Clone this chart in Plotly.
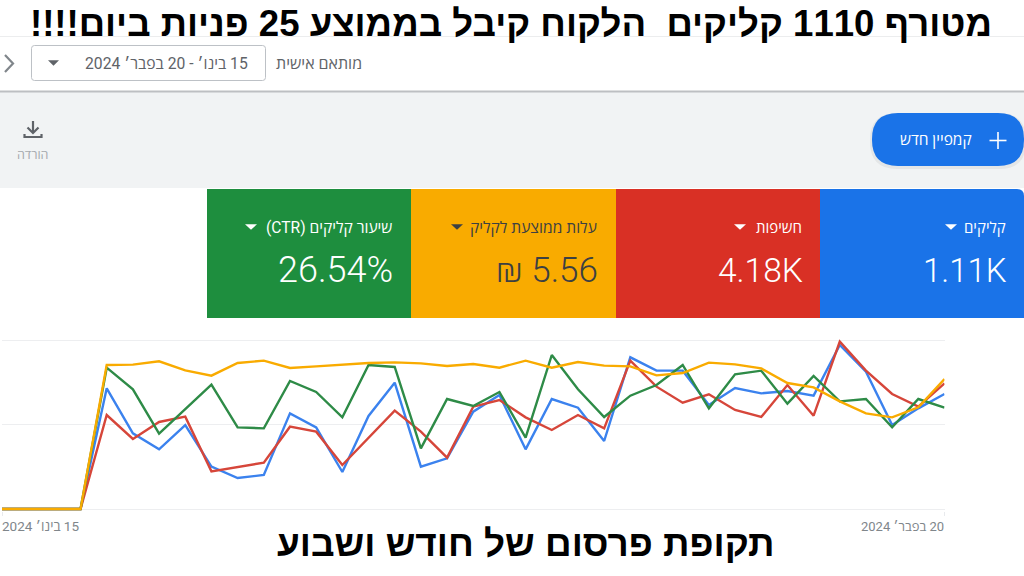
import plotly.graph_objects as go

W, H = 1024, 576

# Chart data: relative metric level per day (axis runs 0 to 507, no printed scale)
days = list(range(37))
zeros = [0, 0, 0, 0]
clicks = zeros + [362,227,179,252,127,93,102,287,245,111,279,379,127,152,292,342,179,330,304,204,455,415,415,312,363,347,354,340,492,412,252,302,345]
impressions = zeros + [282,210,261,277,113,125,139,247,232,132,215,295,232,154,307,327,275,237,282,242,445,367,319,344,297,276,372,280,502,415,345,307,377]
ctr = zeros + [424,359,226,300,373,245,242,384,351,275,432,426,182,330,309,351,214,462,359,276,340,372,432,302,404,415,316,399,323,330,245,330,304]
cpc = zeros + [432,433,443,416,400,438,445,423,428,433,438,440,437,429,435,424,445,424,441,430,428,401,408,439,434,422,378,365,323,287,275,305,390]

RLE, PDF = "\u202b", "\u202c"
def rtl(s):
    return RLE + s + PDF

title_text = "מטורף 1110 קליקים  הלקוח קיבל בממוצע 25 פניות ביום!!!!"
bottom_text = "תקופת פרסום של חודש ושבוע"
range_text = "15 בינו׳ - 20 בפבר׳ 2024"
custom_text = "מותאם אישית"
download_text = "הורדה"
button_text = "קמפיין חדש"
start_label = "15 בינו׳ 2024"
end_label = "20 בפבר׳ 2024"

BLUE, RED, YELLOW, GREEN = "#1A73E8", "#D93025", "#F9AB00", "#1E8E3E"
cards = [
    (820, 1024, BLUE, "#ffffff", "קליקים", "1.11K", 1006, 945, 15, 33),
    (616, 820, RED, "#ffffff", "חשיפות", "4.18K", 802, 734, 15, 33.5),
    (411, 616, YELLOW, "#3C4043", "עלות ממוצעת לקליק", "₪ 5.56", 597, 451, 15.6, 35),
    (207, 411, GREEN, "#ffffff", "שיעור קליקים (CTR)", "26.54%", 392, 245, 15.6, 36),
]

def X(x): return x / W
def Y(y): return 1 - y / H

shapes, annos = [], []

def rect(x0, y0, x1, y1, fill, line=None, lw=1):
    shapes.append(dict(type="rect", xref="paper", yref="paper", x0=X(x0), x1=X(x1), y0=Y(y0), y1=Y(y1),
                       fillcolor=fill, line=dict(color=line or fill, width=lw if line else 0), layer="below"))

def path(points, fill=None, line=None, lw=0, close=True, curve=None):
    d = curve or ("M " + " L ".join(f"{X(a):.5f},{Y(b):.5f}" for a, b in points) + (" Z" if close else ""))
    shapes.append(dict(type="path", xref="paper", yref="paper", path=d,
                       fillcolor=fill or "rgba(0,0,0,0)",
                       line=dict(color=line or "rgba(0,0,0,0)", width=lw), layer="below"))

def rrect(x0, y0, x1, y1, rtl_r, rtr, rbr, rbl):
    """Rounded rectangle path in paper coordinates."""
    def p(a, b): return f"{X(a):.5f},{Y(b):.5f}"
    d = f"M {p(x0+rtl_r,y0)} L {p(x1-rtr,y0)} Q {p(x1,y0)} {p(x1,y0+rtr)} L {p(x1,y1-rbr)} Q {p(x1,y1)} {p(x1-rbr,y1)} L {p(x0+rbl,y1)} Q {p(x0,y1)} {p(x0,y1-rbl)} L {p(x0,y0+rtl_r)} Q {p(x0,y0)} {p(x0+rtl_r,y0)} Z"
    return d

def text(x, y, s, size, color, anchor="center", family="Roboto, 'Open Sans', sans-serif", bold=False, weight=None):
    f = dict(size=size, color=color, family=family)
    if weight:
        f["weight"] = weight
    annos.append(dict(xref="paper", yref="paper", x=X(x), y=Y(y), text=f"<b>{s}</b>" if bold else s,
                      showarrow=False, xanchor=anchor, yanchor="middle",
                      font=f, borderpad=0, borderwidth=0))

def tri(x0, x1, y, h, color):
    path([(x0, y - h / 2), (x1, y - h / 2), ((x0 + x1) / 2, y + h / 2)], fill=color)

# Page bands
rect(0, 92, W, 188, "#F1F3F4")
rect(0, 90.5, W, 92.5, "#BDBFC2")
rect(0, 36, W, 37, "#ECEDEE")

# Date selector
path(None, fill="#ffffff", line="#BDC1C6", lw=1, curve=rrect(31.5, 45.5, 265.5, 80.5, 3, 3, 3, 3))
tri(48, 59, 63, 5.5, "#5F6368")
text(248, 63, rtl(range_text), 15.7, "#5F6368", "right")
text(362, 63, rtl(custom_text), 16, "#5F6368", "right")
path([(5, 55), (13, 63.5), (5, 72)], line="#80868B", lw=2.2, close=False)

# Download
path([(33, 121), (33, 132)], line="#5F6368", lw=2.2, close=False)
path([(27.5, 127.5), (33, 133), (38.5, 127.5)], line="#5F6368", lw=2.2, close=False)
path([(24.5, 134), (24.5, 137), (41.5, 137), (41.5, 134)], line="#5F6368", lw=2.2, close=False)
text(32, 154, rtl(download_text), 12.5, "#A5A9AD")

# New campaign button
path(None, fill="rgba(60,64,67,0.07)", curve=rrect(870, 113, 1026, 169, 27, 27, 27, 27))
path(None, fill=BLUE, curve=rrect(872, 113, 1024, 166, 26, 26, 26, 26))
path([(998, 132), (998, 149)], line="#ffffff", lw=1.6, close=False)
path([(989.5, 140.5), (1006.5, 140.5)], line="#ffffff", lw=1.6, close=False)
text(972, 140, rtl(button_text), 15.5, "#ffffff", "right")

# Metric cards
for x0, x1, color, fg, label, value, right, ax, lsize, vsize in cards:
    if color == BLUE:
        path(None, fill=color, curve=rrect(x0, 189, x1, 318, 0, 7, 0, 0))
    else:
        rect(x0, 189, x1, 318, color)
    tri(ax, ax + 12, 227, 5.5, fg)
    text(right, 227.5, rtl(label), lsize, fg, "right")
    text(right + 1, 270, value, vsize, fg, "right", weight=300)

# Headlines
text(511, 23, rtl(title_text), 36.6, "#000000", family="'Liberation Sans', Arial, sans-serif", bold=True)
text(526, 543, rtl(bottom_text), 36.9, "#000000", family="'Liberation Sans', Arial, sans-serif", bold=True)

# Axis end labels
annos.append(dict(xref="x", yref="paper", x=days[0], y=Y(526), xshift=-2, text=rtl(start_label), showarrow=False,
                  xanchor="left", yanchor="middle", font=dict(size=13.5, color="#80868B", family="Roboto, 'Open Sans', sans-serif")))
annos.append(dict(xref="x", yref="paper", x=days[-1], y=Y(526), xshift=1, text=rtl(end_label), showarrow=False,
                  xanchor="right", yanchor="middle", font=dict(size=13, color="#80868B", family="Roboto, 'Open Sans', sans-serif")))

fig = go.Figure()
for name, vals, col in [("קליקים", clicks, "#3B82EE"), ("חשיפות", impressions, "#D6463A"),
                        ("שיעור קליקים (CTR)", ctr, "#2E8B47"), ("עלות ממוצעת לקליק", cpc, "#F9AB00")]:
    fig.add_trace(go.Scatter(x=days, y=vals, name=name, mode="lines", line=dict(color=col, width=2.4),
                             cliponaxis=False))

fig.update_layout(
    width=W, height=H, margin=dict(l=0, r=0, t=0, b=0), autosize=False,
    paper_bgcolor="#ffffff", plot_bgcolor="#ffffff", showlegend=False,
    shapes=shapes, annotations=annos,
    xaxis=dict(domain=[X(2), X(944.5)], range=[days[0], days[-1]], tickvals=[days[0], days[-1]],
               ticktext=["", ""], ticks="outside", ticklen=4, tickcolor="#E8EAED", showgrid=False, zeroline=False),
    yaxis=dict(domain=[Y(511), Y(338)], range=[-6, 513], tickvals=[0, 253.5, 507], showticklabels=False,
               gridcolor="#EDEEF0", gridwidth=1.4, zeroline=False),
)
fig.write_html("out.html", config=dict(displayModeBar=False),
               post_script="document.body.style.margin='0';document.documentElement.style.overflow='hidden';")
